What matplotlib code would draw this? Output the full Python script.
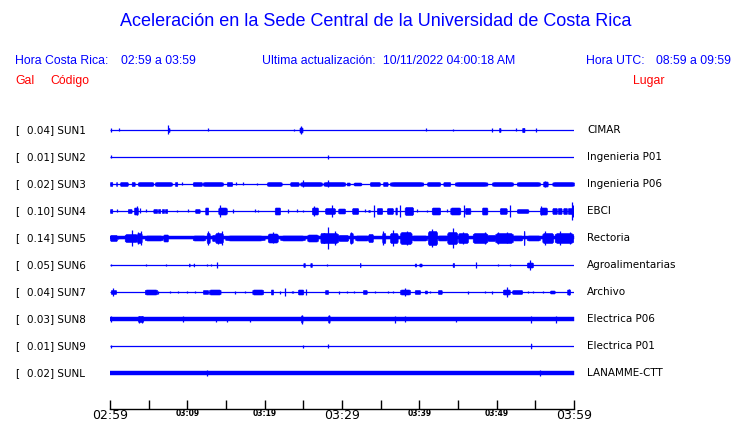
import matplotlib
matplotlib.use('Agg')
import matplotlib.pyplot as plt

# station info
codes = ['SUN1', 'SUN2', 'SUN3', 'SUN4', 'SUN5', 'SUN6', 'SUN7', 'SUN8', 'SUN9', 'SUNL']
gals = ['0.04', '0.01', '0.02', '0.10', '0.14', '0.05', '0.04', '0.03', '0.01', '0.02']
places = ['CIMAR', 'Ingenieria P01', 'Ingenieria P06', 'EBCI', 'Rectoria',
          'Agroalimentarias', 'Archivo', 'Electrica P06', 'Electrica P01', 'LANAMME-CTT']
# background noise level of each trace (relative amplitude)
noise = [0, 0, 0, 0, 1.5, 0, 0, 2.0, 0, 2.2]

# minutes after 02:59 (start, end) and relative amplitude of each burst
sun1 = [(0.1, 0.1, 2), (1.1, 1.1, 1.5), (7.5, 7.5, 4.5), (7.5, 7.7, 2), (12.7, 12.7, 1.5),
        (23.8, 23.8, 1), (24.5, 24.9, 2.5), (24.7, 24.7, 4), (40.8, 40.8, 1.5), (44.3, 44.3, 1),
        (49.4, 49.4, 2), (50.3, 50.5, 2), (52.5, 52.5, 1.5), (53.3, 53.6, 2.2), (55.1, 55.1, 2)]
sun2 = [(0.1, 0.1, 1.5), (28.2, 28.2, 2)]
sun3 = [(0, 0.3, 2), (0.8, 0.9, 2), (1.3, 2.3, 2), (2.8, 3.2, 2), (3.6, 5.6, 2), (5.8, 8.0, 2),
        (8.4, 8.7, 2), (9.3, 9.3, 1.5), (10.7, 11.9, 2), (12.0, 14.6, 2), (15.1, 15.8, 2),
        (16.3, 16.3, 1.5), (17.2, 17.2, 1.5), (19.0, 19.0, 1), (20.3, 22.2, 2), (23.3, 24.4, 2),
        (24.6, 27.4, 2), (25.0, 25.0, 3.5), (27.6, 30.4, 2), (28.2, 28.2, 3.5), (30.6, 31.0, 1.5),
        (31.5, 32.5, 1.5), (33.6, 34.9, 2), (35.3, 35.9, 2), (36.2, 40.5, 2), (41.0, 42.7, 2),
        (43.1, 44.0, 2), (44.6, 48.8, 2), (49.4, 52.1, 2), (52.6, 55.6, 2), (56.0, 56.6, 2.5),
        (56.2, 56.2, 3), (57.2, 60, 2)]
sun4 = [(0, 0.3, 2), (0.9, 0.9, 1.5), (2.3, 2.8, 2), (3.1, 3.6, 3.5), (3.5, 3.5, 4.5),
        (3.9, 3.9, 2.5), (4.7, 4.7, 1.5), (5.6, 6.1, 2), (6.2, 6.5, 2), (6.7, 7.0, 2), (7.1, 7.4, 2),
        (8.6, 8.6, 1), (10.1, 10.1, 1.5), (11.0, 11.6, 2), (12.3, 12.7, 3.5), (14.0, 15.1, 3.5),
        (14.2, 14.2, 6), (15.9, 15.9, 2), (18.8, 18.8, 1.5), (19.1, 19.1, 1), (21.3, 22.0, 3.5),
        (23.0, 23.0, 2), (24.2, 24.2, 1.5), (25.0, 25.0, 1), (26.1, 26.9, 3.5), (26.4, 26.4, 5),
        (27.8, 29.1, 3), (28.7, 28.7, 6), (29.5, 30.4, 2.5), (30.1, 30.1, 2), (31.3, 32.1, 3),
        (33.0, 33.0, 1.5), (33.4, 33.6, 1), (34.1, 34.1, 6), (34.5, 35.2, 3), (35.8, 36.6, 3),
        (36.9, 37.1, 3.5), (37.5, 37.5, 6), (38.1, 39.2, 4), (39.7, 39.7, 1.5), (41.0, 41.0, 1),
        (41.6, 42.7, 3.5), (43.6, 43.6, 1.5), (44.0, 45.3, 3.5), (45.8, 45.8, 6), (45.9, 46.6, 3),
        (48.1, 48.8, 3.5), (50.4, 51.3, 3), (51.7, 51.7, 6), (52.6, 54.1, 2), (55.6, 56.5, 3.5),
        (55.7, 55.7, 4.5), (57.2, 57.8, 3), (57.9, 58.4, 3), (58.6, 59.1, 3), (59.2, 59.7, 3),
        (59.7, 59.7, 9), (59.9, 59.9, 6)]
sun5 = [(0, 0.9, 3), (1.0, 1.0, 1.5), (1.9, 3.5, 4), (2.8, 2.8, 8), (3.5, 4.1, 5), (3.6, 3.6, 6),
        (4.0, 4.0, 7), (4.5, 6.8, 2.5), (6.9, 7.5, 3.5), (10.7, 12.3, 2.5), (12.5, 12.9, 5),
        (12.7, 12.7, 7), (13.2, 13.6, 3), (13.6, 14.6, 5), (14.0, 14.0, 6), (14.5, 14.5, 7),
        (14.9, 20.0, 2.5), (20.4, 21.7, 4.5), (21.1, 21.1, 5.5), (22.0, 25.2, 2.5), (25.5, 26.9, 3.5),
        (27.2, 27.8, 5), (27.4, 29.5, 5), (28.2, 28.2, 11), (29.1, 29.1, 7), (29.5, 30.8, 3),
        (31.0, 31.4, 5), (31.2, 31.2, 6), (31.7, 33.4, 2.5), (33.4, 34.0, 4), (35.2, 35.6, 5),
        (35.3, 35.3, 7), (36.2, 37.2, 5), (36.6, 36.6, 8), (37.5, 39.0, 6), (38.4, 38.4, 7),
        (39.0, 41.0, 2.5), (41.1, 42.3, 7), (41.6, 41.6, 9), (42.4, 43.6, 2.5), (43.6, 44.9, 6),
        (44.4, 44.4, 10), (45.0, 46.3, 5), (45.6, 45.6, 6), (46.9, 48.8, 5), (48.5, 48.5, 6),
        (48.8, 49.8, 3), (49.8, 52.1, 5), (50.2, 50.2, 6), (51.3, 51.3, 5.5), (52.1, 53.3, 2.5),
        (53.5, 53.6, 7), (53.9, 55.6, 2.5), (55.9, 57.3, 5), (56.3, 56.3, 7), (57.5, 59.9, 5),
        (58.2, 58.2, 7), (59.5, 59.5, 6)]
sun6 = [(0.1, 0.1, 1), (4.7, 4.7, 1.5), (7.2, 7.2, 1.5), (10.2, 10.3, 1.5), (10.8, 10.9, 1.5),
        (12.6, 12.6, 1.5), (13.0, 13.0, 1), (13.9, 13.9, 3), (25.0, 25.2, 2), (25.9, 26.1, 2),
        (28.0, 28.0, 1), (32.3, 32.4, 2), (39.4, 39.6, 1.5), (40.0, 40.3, 1.5), (44.3, 44.5, 2),
        (47.3, 47.3, 3), (50.2, 50.2, 1.5), (51.7, 51.7, 1.5), (53.9, 54.7, 2.5), (54.3, 54.3, 5)]
sun7 = [(0.1, 0.8, 2), (0.4, 0.4, 4), (4.5, 6.1, 2.5), (6.2, 6.2, 1.5), (7.8, 7.8, 1),
        (8.8, 8.8, 0.8), (10.0, 10.0, 1), (11.0, 11.0, 1), (12.0, 12.7, 2), (12.8, 14.3, 2.5),
        (16.2, 16.2, 1.5), (17.5, 17.5, 1), (18.4, 19.8, 2.5), (20.8, 21.1, 2.5), (22.0, 22.0, 1.5),
        (22.6, 22.6, 4), (23.5, 23.5, 1), (23.7, 23.7, 1), (24.3, 25.0, 2.5), (25.4, 25.4, 3),
        (27.8, 28.2, 2), (29.6, 29.6, 1.5), (30.6, 30.6, 1), (31.5, 31.5, 1), (32.7, 33.2, 2),
        (34.3, 34.3, 1), (36.0, 36.0, 1), (36.6, 36.6, 1), (37.5, 38.8, 2.5), (38.1, 38.1, 4),
        (39.4, 40.1, 2), (40.7, 41.0, 1.5), (41.4, 41.4, 1), (42.4, 42.9, 2), (46.3, 46.3, 1.5),
        (48.5, 48.5, 1), (49.4, 49.4, 1.5), (50.8, 51.7, 2.5), (51.3, 51.3, 5), (52.0, 53.3, 2),
        (54.1, 54.1, 1), (54.7, 54.7, 1), (56.0, 56.0, 1), (56.9, 57.5, 1.5), (59.1, 59.5, 2.5),
        (59.3, 59.3, 3)]
sun8 = [(0.1, 0.1, 3), (3.6, 4.3, 3), (3.7, 3.7, 3.5), (4.2, 4.2, 3.5), (9.4, 9.4, 3),
        (13.7, 13.7, 2.5), (15.1, 15.1, 2.5), (18.1, 18.1, 2.5), (24.7, 24.9, 3.5), (24.8, 24.8, 4.5),
        (28.2, 28.4, 3.5), (28.3, 28.3, 4), (36.9, 36.9, 3.5), (38.1, 38.1, 3), (44.7, 44.7, 2.5),
        (54.4, 54.4, 3.5), (57.7, 57.7, 3.5)]
sun9 = [(0.1, 0.1, 1.5), (24.9, 24.9, 1.5), (28.2, 28.2, 2), (54.4, 54.5, 2.5)]
sunl = [(12.5, 12.5, 3), (55.6, 55.6, 3)]
events = [sun1, sun2, sun3, sun4, sun5, sun6, sun7, sun8, sun9, sunl]

tick_minutes = list(range(0, 61, 5))
tick_text = ['02:59', '', '03:09', '', '03:19', '', '03:29', '', '03:39', '', '03:49', '', '03:59']

blue = '#0000ff'
red = '#ff0000'
amp_scale = 1 / 27.0

fig = plt.figure(figsize=(7.4, 4.23), dpi=100)
W, H = 740.0, 423.0

def px(x, y):
    return x / W, 1 - y / H

ax = fig.add_axes([110 / W, 14 / H, 464 / W, (409 - 115) / H])
ax.set_xlim(0, 60)
ax.set_ylim((409 - 130) / 27.0, (115 - 130) / 27.0)

for i in range(len(codes)):
    ax.hlines(i, 0, 60, color=blue, lw=0.9)
    if noise[i] > 0:
        ax.fill_between([0, 60], i - noise[i] * amp_scale, i + noise[i] * amp_scale,
                        color=blue, lw=0.3)
    for t0, t1, a in events[i]:
        if t1 > t0:
            # burst: slightly tapered envelope
            w = t1 - t0
            ts = [t0, t0 + 0.12 * w, t1 - 0.12 * w, t1]
            env = [0.75 * a, a, a, 0.75 * a]
            ax.fill_between(ts, [i - e * amp_scale for e in env], [i + e * amp_scale for e in env],
                            color=blue, lw=0.4)
        else:
            ax.vlines(t0, i - a * amp_scale, i + a * amp_scale, color=blue, lw=0.9)

    x0, y0 = px(15, 130 + 27 * i)
    fig.text(x0, y0, '[', fontsize=7.5, va='center', family='DejaVu Sans')
    x1, _ = px(27, 0)
    fig.text(x1, y0, gals[i] + '] ' + codes[i], fontsize=7.5, va='center', family='DejaVu Sans')
    x2, _ = px(587, 0)
    fig.text(x2, y0, places[i], fontsize=7.5, va='center', family='DejaVu Sans')

for s in ['top', 'left', 'right']:
    ax.spines[s].set_visible(False)
ax.spines['bottom'].set_linewidth(1.0)
ax.set_yticks([])
ax.set_xticks(tick_minutes)
ax.set_xticklabels(tick_text)
ax.tick_params(axis='x', direction='in', length=6.5, width=1.0, pad=0.3)
for k, lab in enumerate(ax.get_xticklabels()):
    if tick_minutes[k] in (0, 30, 60):
        lab.set_fontsize(9)
    else:
        lab.set_fontsize(5.5)
        lab.set_fontweight('bold')

title_font = 'Liberation Sans'
hs = 8.8
fig.text(*px(376, 22), 'Aceleración en la Sede Central de la Universidad de Costa Rica',
         ha='center', va='center', fontsize=13, color=blue, family=title_font)
fig.text(*px(15, 61), 'Hora Costa Rica:', fontsize=hs, va='center', color=blue, family=title_font)
fig.text(*px(121, 61), '02:59 a 03:59', fontsize=hs, va='center', color=blue, family=title_font)
fig.text(*px(262, 61), 'Ultima actualización:', fontsize=hs, va='center', color=blue,
         family=title_font)
fig.text(*px(383, 61), '10/11/2022 04:00:18 AM', fontsize=hs, va='center', color=blue,
         family=title_font)
fig.text(*px(586, 61), 'Hora UTC:', fontsize=hs, va='center', color=blue, family=title_font)
fig.text(*px(656, 61), '08:59 a 09:59', fontsize=hs, va='center', color=blue, family=title_font)
fig.text(*px(15, 81), 'Gal', fontsize=hs, va='center', color=red, family=title_font)
fig.text(*px(50, 81), 'Código', fontsize=hs, va='center', color=red, family=title_font)
fig.text(*px(633, 81), 'Lugar', fontsize=hs, va='center', color=red, family=title_font)

fig.savefig('out.png', dpi=100)
